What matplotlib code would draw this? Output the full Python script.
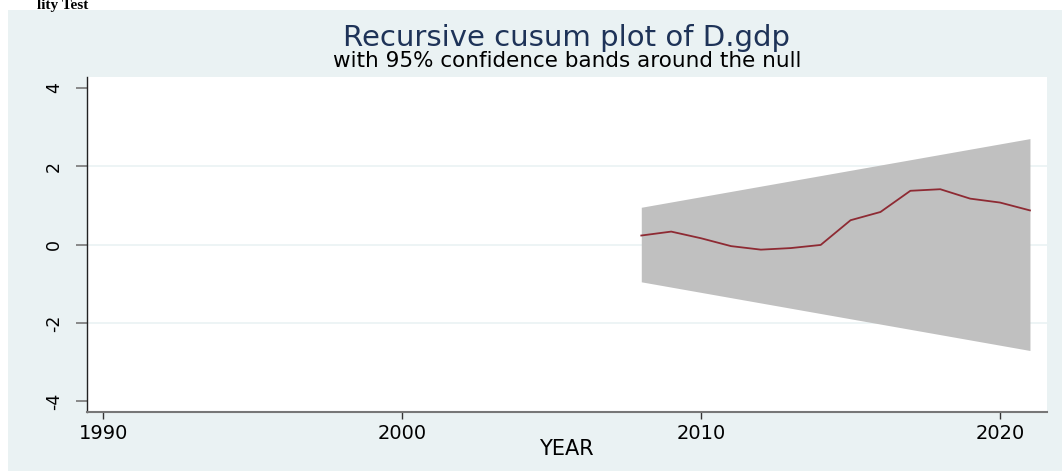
import matplotlib
matplotlib.use("Agg")
import matplotlib.pyplot as plt
from matplotlib.patches import Rectangle

plt.rcParams['axes.unicode_minus'] = False

# data
years = [2008, 2009, 2010, 2011, 2012, 2013, 2014, 2015, 2016, 2017, 2018, 2019, 2020, 2021]
cusum = [0.23, 0.33, 0.16, -0.04, -0.13, -0.09, -0.01, 0.62, 0.83, 1.37, 1.41, 1.17, 1.07, 0.87]
band_years = [2008, 2021]
band_upper = [0.95, 2.70]
band_lower = [-0.95, -2.70]
xticks = [1990, 2000, 2010, 2020]
yticks = [-4, -2, 0, 2, 4]

W, H = 1062, 471
fig = plt.figure(figsize=(W / 100, H / 100), dpi=100)
fig.patch.set_facecolor('white')

# stata graph region
fig.patches.append(Rectangle((8 / W, 0), 1, (H - 10) / H, transform=fig.transFigure,
                             facecolor='#EAF2F3', edgecolor='none', zorder=-5))

# leftover heading of the document above the graph
fig.text(88 / W, (H - 8.5) / H, 'lity Test', ha='right', va='baseline',
         family='Liberation Serif', fontweight='bold', fontsize=11, color='black')

ax = fig.add_axes([86.7 / W, (H - 411.7) / H, (1046.7 - 86.7) / W, (411.7 - 77) / H])
ax.set_facecolor('white')

for y in yticks[1:-1]:
    ax.axhline(y, color='#EAF2F3', lw=1.2, zorder=1)

ax.fill_between(band_years, band_lower, band_upper, color='#C0C0C0', lw=0, zorder=2)
ax.plot(years, cusum, color='#8E2A33', lw=1.3, zorder=3)

ax.set_xlim(1989.45, 2021.56)
ax.set_ylim(-4.26, 4.27)
ax.set_xticks(xticks)
ax.set_xticklabels([str(t) for t in xticks], fontsize=14)
ax.set_yticks(yticks)
ax.set_yticklabels([str(t) for t in yticks], fontsize=12.5, rotation=90, va='center')
ax.tick_params(axis='x', length=5, width=1, color='#333333', pad=4)
ax.tick_params(axis='y', length=8, width=1.2, color='#777777', pad=9)

for s in ['top', 'right']:
    ax.spines[s].set_visible(False)
ax.spines['left'].set_color('#222222')
ax.spines['left'].set_linewidth(1)
ax.spines['bottom'].set_color('#777777')
ax.spines['bottom'].set_linewidth(1.5)

ax.set_xlabel('YEAR', fontsize=15, labelpad=-3)

cx = (86.7 + 1046.7) / 2 / W
fig.text(cx, (H - 46) / H, 'Recursive cusum plot of D.gdp', ha='center', va='baseline',
         fontsize=21, color='#1E3358')
fig.text(cx, (H - 66.7) / H, 'with 95% confidence bands around the null', ha='center',
         va='baseline', fontsize=15.5, color='black')

fig.savefig('out.png', dpi=100)
